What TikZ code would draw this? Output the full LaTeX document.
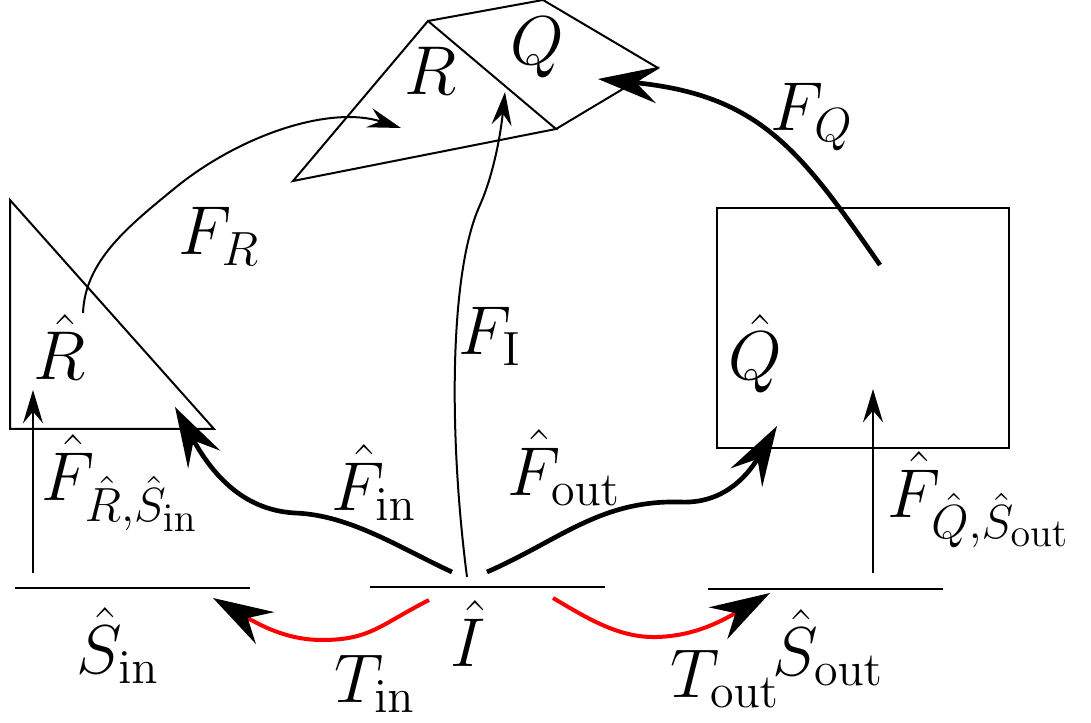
\documentclass[tikz,border=0pt]{standalone}
\usepackage{amsmath, amssymb}
\usepackage{tikz}
\usetikzlibrary{arrows.meta}

\begin{document}
\begin{tikzpicture}[x=0.3pt, y=-0.3pt, line width=0.6pt,
    flow/.style={-{Stealth[length=18pt, width=11pt, inset=6.5pt]}, line width=1.4pt},
    thinflow/.style={-{Stealth[length=10pt, width=6pt, inset=3.5pt]}, line width=0.6pt},
    transfer/.style={-{Stealth[length=18pt, width=11pt, inset=6pt, color=black]},
                     draw=red, line width=1.2pt},
    lbl/.style={anchor=base, inner sep=0pt, font=\huge}]
  \useasboundingbox (0,0) rectangle (1091,723);

  % reservoirs R and Q at the top
  \draw (293,181) -- (428,21) -- (556,129) -- cycle;
  \draw (428,21) -- (543,0) -- (658,68) -- (556,129);
  \node[lbl] (R) at (431,95) {$R$};
  \node[lbl] (Q) at (537,65) {$Q$};

  % hatted reservoirs
  \draw (10,200) -- (10,429) -- (214,429) -- cycle;
  \node[lbl] (Rh) at (60,380) {$\hat{R}$};
  \draw (717,208) rectangle (1009,448);
  \node[lbl] (Qh) at (755,380) {$\hat{Q}$};

  % boundary lines
  \draw (15,588) -- (250,588);
  \draw (370,587) -- (605,587);
  \draw (708,589) -- (943,589);
  \node[lbl] (Sin) at (118,673) {$\hat{S}_{\mathrm{in}}$};
  \node[lbl] (Ih) at (468,666) {$\hat{I}$};
  \node[lbl] (Sout) at (828,675) {$\hat{S}_{\mathrm{out}}$};

  % end points of the fluxes
  \coordinate (aRs) at (33,573);   \coordinate (aRe) at (33,390);
  \coordinate (aQs) at (873,573);  \coordinate (aQe) at (873,389);
  \coordinate (fns) at (452,572);  \coordinate (fnm) at (295,513);
  \coordinate (fne) at (175,407);
  \coordinate (fos) at (487,572);  \coordinate (fom) at (680,502);
  \coordinate (foe) at (777,426);
  \coordinate (fis) at (467,577);  \coordinate (fim) at (480,205);
  \coordinate (fie) at (505,92);
  \coordinate (frs) at (83,313);   \coordinate (frm) at (175,188);
  \coordinate (fre) at (401,128);
  \coordinate (fqs) at (880,265);  \coordinate (fqe) at (598,79);
  \coordinate (tis) at (429,600);  \coordinate (tim) at (322,640);
  \coordinate (tie) at (213,598);
  \coordinate (tos) at (553,598);  \coordinate (tom) at (657,637);
  \coordinate (toe) at (770,593);

  % fluxes
  \draw[thinflow] (aRs) -- (aRe);
  \draw[thinflow] (aQs) -- (aQe);
  \draw[flow] (fns) .. controls (400,548) and (350,515) .. (fnm)
              .. controls (240,510) and (210,470) .. (fne);
  \draw[flow] (fos) .. controls (560,540) and (600,500) .. (fom)
              .. controls (720,504) and (745,480) .. (foe);
  \draw[thinflow] (fis) .. controls (448,430) and (450,270) .. (fim)
                  .. controls (492,178) and (500,140) .. (fie);
  \draw[thinflow] (frs) .. controls (85,260) and (130,225) .. (frm)
                  .. controls (240,135) and (330,105) .. (fre);
  \draw[flow] (fqs) .. controls (800,150) and (760,95) .. (fqe);
  \draw[transfer] (tis) .. controls (380,625) and (370,640) .. (tim)
                  .. controls (290,640) and (265,628) .. (tie);
  \draw[transfer] (tos) .. controls (590,620) and (620,638) .. (tom)
                  .. controls (690,636) and (715,625) .. (toe);

  % flux labels
  \node[lbl] (lFR) at (219,255) {$F_R$};
  \node[lbl] (lFQ) at (812,131) {$F_Q$};
  \node[lbl] (lFI) at (490,355) {$F_{\mathrm{I}}$};
  \node[lbl] (lFin) at (374,510) {$\hat{F}_{\mathrm{in}}$};
  \node[lbl] (lFout) at (564,495) {$\hat{F}_{\mathrm{out}}$};
  \node[lbl] (lFRS) at (120,500) {$\hat{F}_{\hat{R},\hat{S}_{\mathrm{in}}}$};
  \node[lbl] (lFQS) at (979,517) {$\hat{F}_{\hat{Q},\hat{S}_{\mathrm{out}}}$};
  \node[lbl] (lTin) at (375,702) {$T_{\mathrm{in}}$};
  \node[lbl] (lTout) at (725,697) {$T_{\mathrm{out}}$};
\end{tikzpicture}
\end{document}
